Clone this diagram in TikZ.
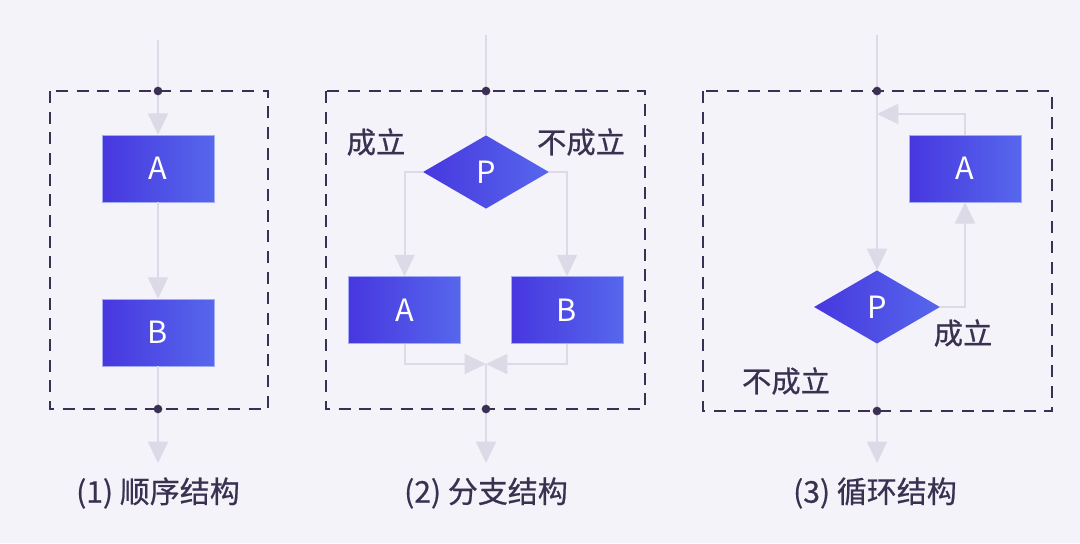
\documentclass[tikz,border=0pt]{standalone}
\usepackage{fontspec}
\setmainfont{Noto Sans CJK SC}
\newfontfamily\labelfont{Noto Sans CJK SC}[FakeBold=0.6]
\usetikzlibrary{positioning, shapes.geometric, arrows.meta}

\definecolor{bgcol}{HTML}{F4F3FA}
\definecolor{linecol}{HTML}{DCDAE6}
\definecolor{dashcol}{HTML}{3B3053}
\definecolor{textcol}{HTML}{3A3050}
\definecolor{boxL}{HTML}{4737DF}
\definecolor{boxR}{HTML}{5667EC}

\begin{document}
\begin{tikzpicture}[
    x=0.75pt, y=-0.75pt,
    box/.style={rectangle, minimum width=84pt, minimum height=50.25pt, inner sep=0pt,
      left color=boxL, right color=boxR, draw=boxR!55!white, line width=0.4pt,
      text=white, font=\fontsize{23}{27}\selectfont},
    cond/.style={diamond, aspect=1.72, minimum width=94.5pt, minimum height=55pt, inner sep=0pt,
      left color=boxL, right color=boxR, text=white, font=\fontsize{23}{27}\selectfont},
    link/.style={draw=linecol, line width=1.5pt},
    flow/.style={link, -{Triangle[width=15pt, length=16pt]}},
    frame/.style={draw=dashcol, line width=2pt, dash pattern=on 9pt off 6.5pt},
    dot/.style={circle, fill=dashcol, inner sep=0pt, minimum size=6.5pt},
    lbl/.style={text=textcol, font=\labelfont\fontsize{22}{26}\selectfont},
    caption/.style={text=textcol, font=\labelfont\fontsize{22.5}{27}\selectfont}
]
\fill[bgcol] (0,0) rectangle (1080,543);

  % First panel: sequence
  \draw[frame] (50,91) rectangle (268,409);
  \coordinate (top1) at (158,40);
  \coordinate (out1) at (158,463);
  \node[box] (A1) at (158,168.5) {A};
  \node[box] (B1) at (158,332.5) {B};
  \draw[flow] (top1) -- (A1);
  \draw[flow] (A1) -- (B1);
  \draw[flow] (B1) -- (out1);
  \node[dot] (in1) at (158,91) {};
  \node[dot] (ex1) at (158,409) {};
  \node[caption] (cap1) at (158,493) {(1) 顺序结构};

  % Second panel: branch
  \begin{scope}
  \draw[frame] (326,91) rectangle (645,409);
  \coordinate (top2) at (486,35);
  \coordinate (m2) at (486,364);
  \coordinate (out2) at (486,463);
  \node[cond] (P2) at (486,172) {P};
  \node[box] (A2) at (404.5,310) {A};
  \node[box] (B2) at (567,310) {B};
  \draw[link] (top2) -- (P2);
  \draw[flow] (P2.west) -| (A2.north);
  \draw[flow] (P2.east) -| (B2.north);
  \draw[flow] (A2.south) |- (m2);
  \draw[flow] (B2.south) |- (m2);
  \draw[flow] (m2) -- (out2);
  \node[dot] (in2) at (486,91) {};
  \node[dot] (ex2) at (486,409) {};
  \node[lbl] (yes2) at (376,142) {成立};
  \node[lbl] (no2) at (581,142) {不成立};
  \node[caption] (cap2) at (486,493) {(2) 分支结构};
  \end{scope}

  % Third panel: loop
  \begin{scope}
  \draw[frame] (703,91) rectangle (1052,411);
  \coordinate (top3) at (877,35);
  \coordinate (back3) at (877,114);
  \coordinate (out3) at (877,463);
  \node[cond] (P3) at (877,307) {P};
  \node[box] (A3) at (965,168.5) {A};
  \draw[flow] (top3) -- (P3);
  \draw[flow] (P3.east) -| (A3.south);
  \draw[flow] (A3.north) |- (back3);
  \draw[flow] (P3) -- (out3);
  \node[dot] (in3) at (877,91) {};
  \node[dot] (ex3) at (877,411) {};
  \node[lbl] (yes3) at (963,333) {成立};
  \node[lbl] (no3) at (786,381) {不成立};
  \node[caption] (cap3) at (875,493) {(3) 循环结构};
  \end{scope}
\end{tikzpicture}
\end{document}
